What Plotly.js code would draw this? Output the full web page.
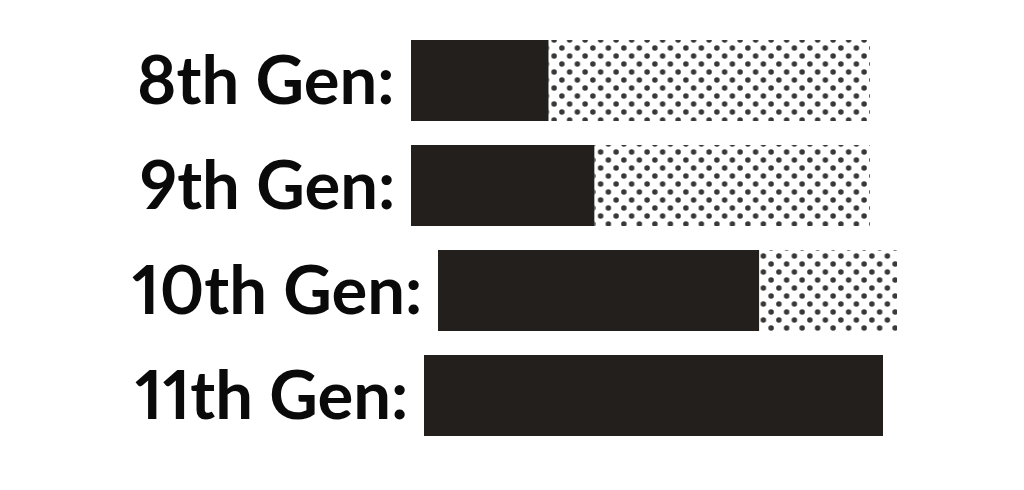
<!DOCTYPE html>
<html>
<head>
<meta charset="utf-8">
<script src="https://cdn.plot.ly/plotly-3.0.1.min.js"></script>
<style>
html,body{margin:0;padding:0;background:#fff;}
svg text{font-variant-numeric:proportional-nums;font-feature-settings:"pnum" 1;}
</style>
</head>
<body>
<div id="chart" style="width:1024px;height:490px;"></div>
<script>
// ---- data ----
const categories = ['8th Gen', '9th Gen', '10th Gen', '11th Gen'];
const labels = ['8th Gen:', '9th Gen:', '10th Gen:', '11th Gen:'];
const solidShare = [30, 40, 70, 100];
const dottedShare = [70, 60, 30, 0];

// ---- layout constants ----
const W = 1024, H = 490;
const pxPerUnit = 4.59;
const barStartPx = [411, 411, 438, 424];
const xMax = W / pxPerUnit;
const solidBase = barStartPx.map(p => p / pxPerUnit);
const dottedBase = solidBase.map((b, i) => b + solidShare[i]);

const traces = [
  {
    type: 'bar', orientation: 'h',
    y: categories, x: solidShare, base: solidBase,
    width: 0.77,
    marker: {color: '#231f1c', line: {width: 0}},
    hoverinfo: 'skip'
  },
  {
    type: 'bar', orientation: 'h',
    y: categories, x: dottedShare, base: dottedBase,
    width: 0.77,
    marker: {
      color: '#ffffff',
      line: {width: 0},
      pattern: {shape: '.', fgcolor: '#383838', bgcolor: '#ffffff', size: 15, solidity: 0.1, fillmode: 'replace'}
    },
    hoverinfo: 'skip'
  }
];

const annotations = labels.map((t, i) => ({
  xref: 'x', x: solidBase[i], xanchor: 'right', xshift: -14,
  yref: 'y', y: categories[i], yanchor: 'middle', yshift: 3,
  text: t, showarrow: false,
  font: {family: 'Lato', size: 67, color: '#0a0a0a', weight: 700}
}));

const layout = {
  width: W, height: H,
  margin: {l: 0, r: 0, t: 28, b: 42, pad: 0},
  paper_bgcolor: '#ffffff', plot_bgcolor: '#ffffff',
  barmode: 'overlay',
  showlegend: false,
  xaxis: {range: [0, xMax], visible: false, fixedrange: true},
  yaxis: {type: 'category', range: [3.5, -0.5], visible: false, fixedrange: true},
  annotations: annotations
};

function stagger() {
  const NS = 'http://www.w3.org/2000/svg';
  const tw = 15.5, th = 16, r = 2.75;
  document.querySelectorAll('defs pattern').forEach(p => {
    p.setAttribute('width', tw);
    p.setAttribute('height', th);
    p.querySelectorAll('rect').forEach(rc => { rc.setAttribute('width', tw); rc.setAttribute('height', th); });
    const kids = Array.from(p.querySelectorAll('circle, path'));
    kids.forEach(k => k.remove());
    [[tw / 4, th / 4], [3 * tw / 4, 3 * th / 4]].forEach(([cx, cy]) => {
      const c = document.createElementNS(NS, 'circle');
      c.setAttribute('cx', cx); c.setAttribute('cy', cy); c.setAttribute('r', r);
      c.setAttribute('fill', '#383838');
      c.setAttribute('style', 'fill:#383838;stroke-width:0');
      p.appendChild(c);
    });
  });
}

Plotly.newPlot('chart', traces, layout, {displayModeBar: false, staticPlot: true}).then(stagger);
</script>
</body>
</html>
